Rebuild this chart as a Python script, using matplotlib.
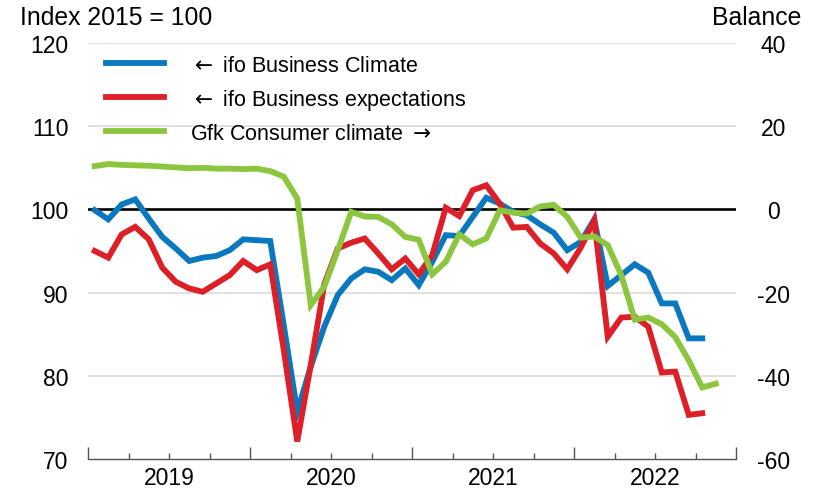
import numpy as np
import matplotlib.pyplot as plt
from matplotlib.transforms import blended_transform_factory

plt.rcParams['font.family'] = ['Liberation Sans', 'DejaVu Sans']
plt.rcParams['axes.unicode_minus'] = False

# monthly readings, Jan 2019 onwards
ifo_climate = [99.9, 98.8, 100.6, 101.2, 98.9, 96.7, 95.3, 93.8, 94.2, 94.4, 95.1, 96.4,
               96.3, 96.2, 86.1, 75.7, 81.1, 85.9, 89.7, 91.7, 92.8, 92.5, 91.5, 92.9,
               90.9, 93.7, 96.9, 96.8, 99.1, 101.4, 100.7, 99.7, 99.3, 98.2, 97.2, 95.1,
               96.1, 98.8, 90.8, 92.1, 93.4, 92.4, 88.7, 88.7, 84.5, 84.5]
ifo_expect = [95.0, 94.2, 97.0, 97.9, 96.4, 93.0, 91.3, 90.5, 90.1, 91.1, 92.1, 93.8,
              92.7, 93.4, 83.1, 72.1, 81.3, 91.0, 95.3, 96.0, 96.5, 94.7, 92.8, 94.1,
              92.2, 94.5, 100.2, 99.2, 102.3, 102.9, 100.7, 97.8, 97.9, 95.9, 94.7, 92.8,
              95.4, 98.7, 84.7, 87.0, 87.1, 85.9, 80.4, 80.5, 75.3, 75.5]
gfk_climate = [10.4, 10.9, 10.7, 10.6, 10.5, 10.3, 10.1, 9.9, 10.0, 9.8, 9.8, 9.7,
               9.8, 9.2, 7.9, 2.6, -23.0, -18.6, -9.8, -0.6, -1.7, -1.8, -3.6, -6.6,
               -7.3, -15.6, -12.6, -6.0, -8.4, -7.0, -0.2, -0.8, -1.0, 0.7, 1.1, -1.8,
               -6.8, -6.5, -8.6, -15.8, -26.5, -26.0, -27.6, -30.7, -36.3, -42.8, -41.9]
years = ['2019', '2020', '2021', '2022']

blue = '#0a78be'
red = '#dd1f27'
green = '#8cc63f'

fig = plt.figure(figsize=(8.22, 4.89), dpi=100)
ax = fig.add_axes([88/822, 1 - 460/489, 648/822, 416/489])
ax2 = ax.twinx()

m1 = np.arange(len(ifo_climate))
m2 = np.arange(len(gfk_climate))

for y in [80, 90, 110, 120]:
    ax.axhline(y, color='#d9d9d9', lw=1.1, zorder=1)
ax.axhline(100, color='black', lw=1.9, zorder=2)

l1, = ax.plot(m1, ifo_climate, color=blue, lw=4.2, solid_joinstyle='miter', zorder=3,
              label=r'$\leftarrow$ ifo Business Climate')
l2, = ax.plot(m1, ifo_expect, color=red, lw=4.2, solid_joinstyle='miter', zorder=4,
              label=r'$\leftarrow$ ifo Business expectations')
l3, = ax2.plot(m2, gfk_climate, color=green, lw=4.2, solid_joinstyle='miter', zorder=3,
               label=r'Gfk Consumer climate $\rightarrow$')

ax.set_xlim(-0.5, 47.5)
ax.set_ylim(70, 120)
ax2.set_ylim(-60, 40)
ax.set_yticks(range(70, 121, 10))
ax2.set_yticks(range(-60, 41, 20))

for a in (ax, ax2):
    for s in ['top', 'left', 'right']:
        a.spines[s].set_visible(False)
ax2.spines['bottom'].set_visible(False)
ax.spines['bottom'].set_color('#555555')
ax.spines['bottom'].set_linewidth(1)

ax.tick_params(axis='y', length=0, pad=14, labelsize=16.5)
ax2.tick_params(axis='y', length=0, pad=27, labelsize=16.5)
for lab in ax2.get_yticklabels():
    lab.set_horizontalalignment('center')

# year boundaries as major ticks, quarters as minor ticks
ax.set_xticks(np.arange(-0.5, 48, 12))
ax.set_xticks(np.arange(-0.5, 48, 3), minor=True)
ax.set_xticklabels([])
ax.tick_params(axis='x', which='major', direction='in', length=8.5, width=1, color='#555555')
ax.tick_params(axis='x', which='minor', direction='in', length=4.3, width=1, color='#555555')

tr = blended_transform_factory(ax.transData, fig.transFigure)
for i, yr in enumerate(years):
    ax.text(5.5 + 12 * i, 1 - 479/489, yr, transform=tr, ha='center', va='center', fontsize=16.5)

fig.text(20/822, 1 - 18/489, 'Index 2015 = 100', ha='left', va='center', fontsize=17.8)
fig.text(757/822, 1 - 18/489, 'Balance', ha='center', va='center', fontsize=17.8)

ax2.legend(handles=[l1, l2, l3], loc='upper left', bbox_to_anchor=(106/822, 1 - 56/489),
           bbox_transform=fig.transFigure, frameon=False, fontsize=15.5, handlelength=2.7,
           handletextpad=1.2, labelspacing=0.5, borderpad=0, borderaxespad=0)

fig.savefig('out.png', dpi=100)
